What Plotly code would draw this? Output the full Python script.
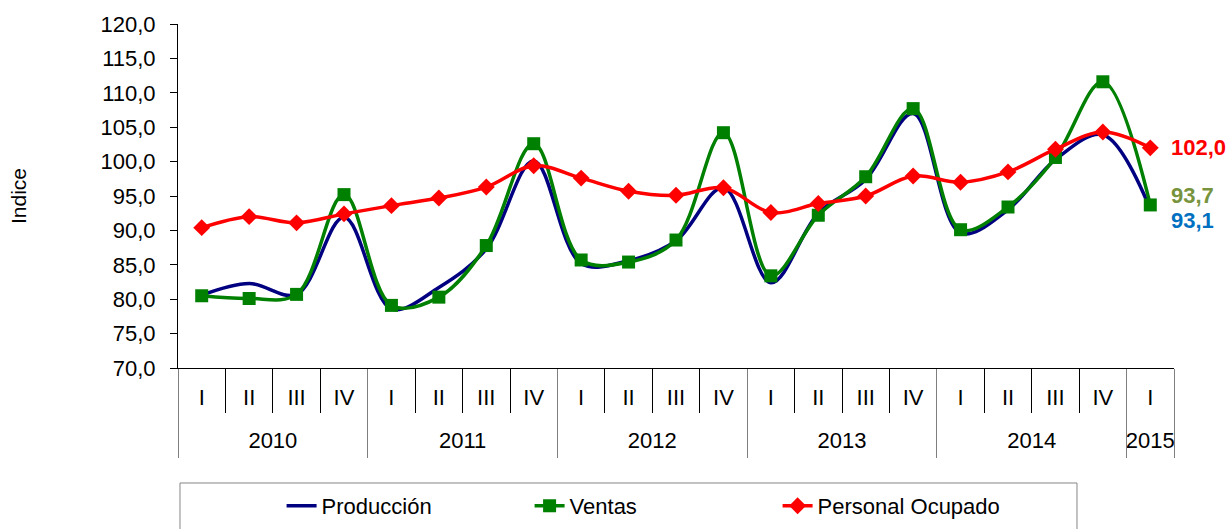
"""Quarterly index chart: Producción, Ventas y Personal Ocupado (2010-2015)."""

import plotly.graph_objects as go

FONT = "Liberation Sans, Arial, sans-serif"

YEARS = ["2010"] * 4 + ["2011"] * 4 + ["2012"] * 4 + ["2013"] * 4 + ["2014"] * 4 + ["2015"]
QUARTERS = ["I", "II", "III", "IV"] * 5 + ["I"]

PRODUCCION = [80.6, 82.3, 80.7, 91.9,
              78.6, 81.7, 87.3, 100.1,
              85.2, 85.6, 88.5, 96.2,
              82.4, 92.5, 97.4, 107.0,
              89.6, 93.0, 100.3, 103.9,
              93.1]
VENTAS = [80.5, 80.1, 80.7, 95.2,
          79.1, 80.3, 87.8, 102.6,
          85.7, 85.4, 88.6, 104.2,
          83.4, 92.2, 97.8, 107.7,
          90.1, 93.4, 100.6, 111.6,
          93.7]
PERSONAL = [90.4, 92.0, 91.1, 92.4,
            93.6, 94.7, 96.3, 99.4,
            97.6, 95.7, 95.1, 96.2,
            92.6, 93.9, 95.0, 97.9,
            97.0, 98.5, 101.8, 104.3,
            102.0]

idx = list(range(len(QUARTERS)))
xrange_ = [-0.5, len(QUARTERS) - 0.5]

# year groups -> label centres and divider positions
year_names, year_centers, year_bounds = [], [], [-0.5]
for yr in YEARS:
    if not year_names or year_names[-1] != yr:
        year_names.append(yr)
        members = [j for j, v in enumerate(YEARS) if v == yr]
        year_centers.append(sum(members) / len(members))
        year_bounds.append(members[-1] + 0.5)
quarter_bounds = [i - 0.5 for i in idx] + [idx[-1] + 0.5]

fig = go.Figure()
fig.add_trace(go.Scatter(
    x=idx, y=PRODUCCION, name="Producción", mode="lines",
    line=dict(color="#000080", width=3.5, shape="spline", smoothing=1),
))
fig.add_trace(go.Scatter(
    x=idx, y=VENTAS, name="Ventas", mode="lines+markers",
    line=dict(color="#008000", width=3.5, shape="spline", smoothing=1),
    marker=dict(symbol="square", size=13, color="#008000"),
))
fig.add_trace(go.Scatter(
    x=idx, y=PERSONAL, name="Personal Ocupado", mode="lines+markers",
    line=dict(color="#FF0000", width=3.5, shape="spline", smoothing=1),
    marker=dict(symbol="diamond", size=13, color="#FF0000"),
))
# empty traces so the helper axes get drawn
for ax in ["x2", "x3", "x4"]:
    fig.add_trace(go.Scatter(x=[], y=[], xaxis=ax, showlegend=False, hoverinfo="skip"))


def fmt(v):
    return f"{v:.1f}".replace(".", ",")


last = idx[-1]
for series, color, shift in [(PERSONAL, "#FF0000", 0),
                             (VENTAS, "#77933C", 9),
                             (PRODUCCION, "#0070C0", -11)]:
    fig.add_annotation(
        x=last, y=series[-1], xref="x", yref="y",
        text=f"<b>{fmt(series[-1])}</b>", showarrow=False,
        xanchor="left", yanchor="middle", xshift=19, yshift=shift,
        font=dict(family=FONT, size=22, color=color),
    )

# legend frame
fig.add_shape(type="rect", xref="paper", yref="paper",
              x0=0.002, x1=0.9026, y0=-0.3343, y1=-0.7,
              line=dict(color="#868686", width=1), fillcolor="rgba(0,0,0,0)")

fig.update_layout(
    width=1231, height=529,
    margin=dict(l=178, r=57, t=24, b=161, autoexpand=False),
    paper_bgcolor="white", plot_bgcolor="white",
    separators=",.",
    font=dict(family=FONT, size=22, color="black"),
    showlegend=True,
    legend=dict(orientation="h", x=0.104, xanchor="left", y=-0.34, yanchor="top",
                font=dict(size=22), entrywidth=203, bgcolor="rgba(0,0,0,0)"),
    xaxis=dict(range=xrange_, tickmode="array", tickvals=idx, ticktext=QUARTERS,
               showline=True, linecolor="black", linewidth=1, ticks="",
               ticklabelstandoff=10, showgrid=False, zeroline=False,
               tickfont=dict(size=22)),
    xaxis2=dict(overlaying="x", anchor="y", side="bottom", range=xrange_,
                tickmode="array", tickvals=quarter_bounds, showticklabels=False,
                ticks="outside", ticklen=44, tickcolor="black", tickwidth=1,
                showline=False, showgrid=False, zeroline=False),
    xaxis3=dict(overlaying="x", anchor="y", side="bottom", range=xrange_,
                tickmode="array", tickvals=year_centers, ticktext=year_names,
                ticks="", ticklabelstandoff=57, tickfont=dict(size=22),
                showline=False, showgrid=False, zeroline=False),
    xaxis4=dict(overlaying="x", anchor="y", side="bottom", range=xrange_,
                tickmode="array", tickvals=year_bounds, showticklabels=False,
                ticks="outside", ticklen=89, tickcolor="#7f7f7f", tickwidth=1,
                showline=False, showgrid=False, zeroline=False),
)
fig.update_yaxes(
    range=[70, 120], dtick=5, tickformat=".1f",
    showline=True, linecolor="black", linewidth=1,
    ticks="outside", ticklen=7, tickcolor="black", ticklabelstandoff=10,
    showgrid=False, zeroline=False, automargin=False,
    title=dict(text="Indice", standoff=68, font=dict(size=21)),
    tickfont=dict(size=22),
)

# the page body has a default margin; drop it so the figure fills the window
fig.write_html("out.html", config={"displayModeBar": False},
               post_script="document.body.style.margin='0';document.body.style.overflow='hidden';")
